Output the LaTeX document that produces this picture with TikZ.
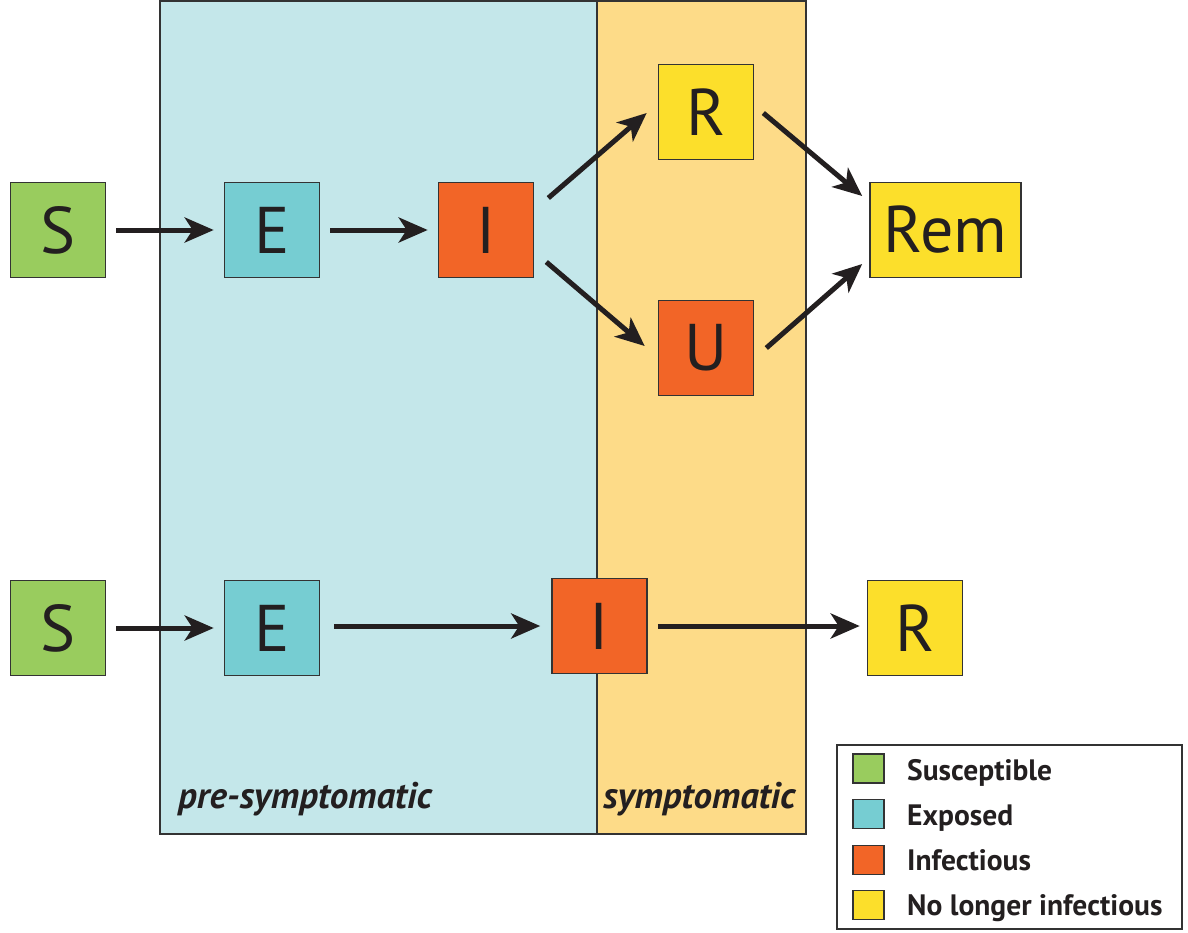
\documentclass[tikz,border=0pt]{standalone}
\usepackage{fontspec}
\setmainfont{PT Sans}
\usetikzlibrary{arrows.meta}
\definecolor{cS}{HTML}{99CC5E}
\definecolor{cE}{HTML}{76CDD2}
\definecolor{cI}{HTML}{F26527}
\definecolor{cR}{HTML}{FCDF2B}
\definecolor{bgBlue}{HTML}{C4E7EA}
\definecolor{bgOrange}{HTML}{FDDB88}
\definecolor{edge}{HTML}{333333}
\definecolor{ink}{HTML}{231F20}
\tikzset{
  box/.style={draw=edge, line width=1.6pt, minimum width=95pt, minimum height=95pt, inner sep=0pt,
    text=ink, font=\fontsize{66}{66}\selectfont},
  arr/.style={draw=ink, line width=5pt, -{Stealth[length=29pt,width=25pt,inset=8pt]}},
  swatch/.style={draw=edge, line width=1.4pt, minimum width=31pt, minimum height=29pt, inner sep=0pt},
  legtext/.style={anchor=base west, inner sep=0pt, text=ink, font=\fontsize{29.5}{32}\selectfont\bfseries},
  phase/.style={anchor=base west, inner sep=0pt, text=ink, font=\fontsize{37}{40}\selectfont\bfseries\itshape},
}
\begin{document}
\begin{tikzpicture}[x=1pt,y=-1pt]
\useasboundingbox[fill=white] (0,0) rectangle (1188,932);
% phase backgrounds
\fill[bgBlue] (160,0.8) rectangle (597,834);
\fill[bgOrange] (597,0.8) rectangle (806,834);
\draw[edge, line width=1.6pt] (160,0.8) rectangle (806,834);
\draw[edge, line width=1.6pt] (597,0.8) -- (597,834);
\node[phase] (lpre) at (178,808) {pre-symptomatic};
\node[phase] (lsym) at (603,808) {symptomatic};
% top model
\node[box, fill=cS] (S1) at (58,230) {S};
\node[box, fill=cE] (E1) at (272,230) {E};
\node[box, fill=cI] (I1) at (486,230) {I};
\node[box, fill=cR] (R1) at (706,112) {R};
\node[box, fill=cI] (U1) at (706,348) {U};
\node[box, fill=cR, minimum width=151pt] (Rem) at (945.5,230) {Rem};
\draw[arr] ([xshift=10pt]S1.east) -- ([xshift=-10pt]E1.west);
\draw[arr] ([xshift=10pt]E1.east) -- ([xshift=-10pt]I1.west);
\draw[arr] ([shift={(14,-32)}]I1.east) -- ([shift={(-11,1)}]R1.west);
\draw[arr] ([shift={(12,32)}]I1.east) -- ([shift={(-13,-2)}]U1.west);
\draw[arr] ([shift={(9,1)}]R1.east) -- ([shift={(-7,-34)}]Rem.west);
\draw[arr] ([shift={(12,0)}]U1.east) -- ([shift={(-7,34)}]Rem.west);
% bottom model
\node[box, fill=cS] (S2) at (58,628) {S};
\node[box, fill=cE] (E2) at (272,628) {E};
\node[box, fill=cI] (I2) at (599.5,626) {I};
\node[box, fill=cR] (R2) at (915,628) {R};
\draw[arr] ([xshift=10pt]S2.east) -- ([xshift=-10pt]E2.west);
\draw[arr] ([shift={(14,-2)}]E2.east) -- ([xshift=-11pt]I2.west);
\draw[arr] ([xshift=10pt]I2.east) -- ([shift={(-7,-2)}]R2.west);
% legend
\draw[edge, line width=1.6pt, fill=white] (837,745) rectangle (1182,929);
\node[swatch, fill=cS] (k1) at (868.5,768.5) {};
\node[swatch, fill=cE] (k2) at (868.5,814) {};
\node[swatch, fill=cI] (k3) at (868.5,860) {};
\node[swatch, fill=cR] (k4) at (868.5,905) {};
\node[legtext] (t1) at (907,780) {Susceptible};
\node[legtext] (t2) at (907,825) {Exposed};
\node[legtext] (t3) at (907,870) {Infectious};
\node[legtext] (t4) at (907,915) {No longer infectious};
\end{tikzpicture}
\end{document}
